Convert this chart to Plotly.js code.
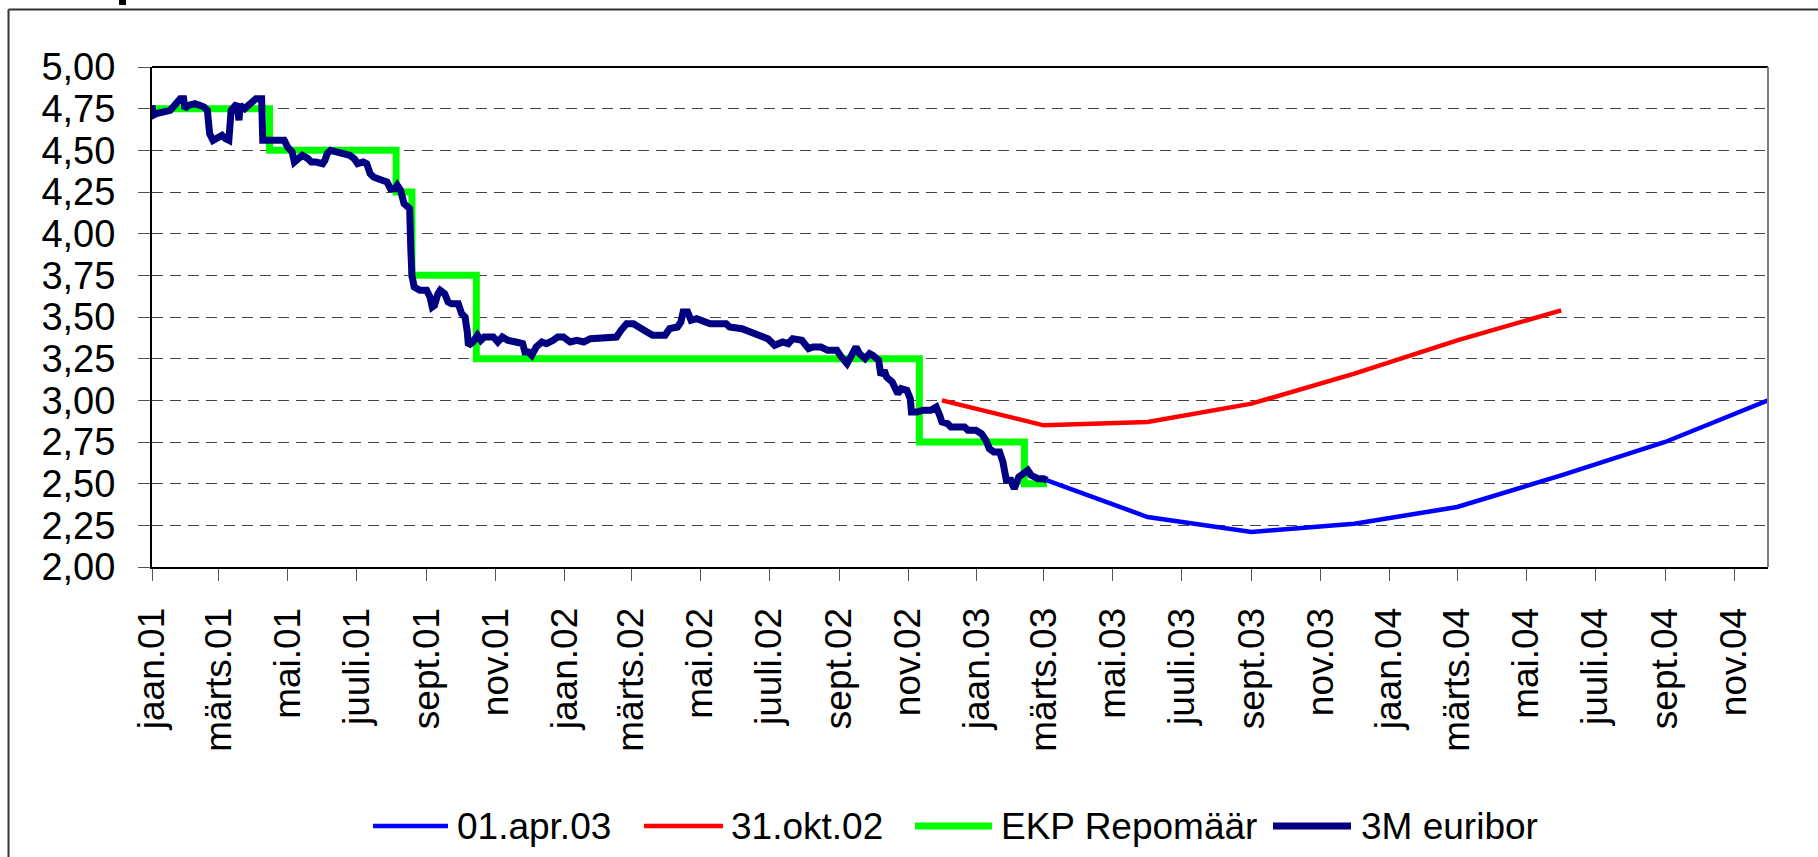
<!DOCTYPE html>
<html>
<head>
<meta charset="utf-8">
<script src="https://cdn.plot.ly/plotly-3.0.1.min.js"></script>
<style>
  html, body { margin: 0; padding: 0; background: #ffffff; }
  #chart { width: 1818px; height: 857px; }
</style>
</head>
<body>
<div id="chart"></div>
<script>
// ---------- data ----------
const tickDates = ['2001-01-01','2001-03-01','2001-05-01','2001-07-01','2001-09-01','2001-11-01',
  '2002-01-01','2002-03-01','2002-05-01','2002-07-01','2002-09-01','2002-11-01',
  '2003-01-01','2003-03-01','2003-05-01','2003-07-01','2003-09-01','2003-11-01',
  '2004-01-01','2004-03-01','2004-05-01','2004-07-01','2004-09-01','2004-11-01'];
const tickLabels = ['jaan.01','märts.01','mai.01','juuli.01','sept.01','nov.01',
  'jaan.02','märts.02','mai.02','juuli.02','sept.02','nov.02',
  'jaan.03','märts.03','mai.03','juuli.03','sept.03','nov.03',
  'jaan.04','märts.04','mai.04','juuli.04','sept.04','nov.04'];

const seriesNames = ['01.apr.03', '31.okt.02', 'EKP Repomäär', '3M euribor'];

const fwdAprDates = ['2003-03-04','2003-06-01','2003-09-01','2003-12-01','2004-03-01','2004-06-01','2004-09-01','2004-12-01'];
const fwdAprValues = [2.52, 2.30, 2.21, 2.26, 2.36, 2.55, 2.75, 3.00];

const fwdOctDates = ['2002-12-01','2003-03-01','2003-06-01','2003-09-01','2003-12-01','2004-03-01','2004-06-01'];
const fwdOctValues = [3.00, 2.85, 2.87, 2.98, 3.16, 3.36, 3.54];

const repoDates = ['2001-01-01','2001-04-15','2001-08-05','2001-08-19','2001-10-15','2002-11-11','2003-02-12','2003-03-04'];
const repoValues = [4.75, 4.50, 4.25, 3.75, 3.25, 2.75, 2.50, 2.50];

const euriborDates = [
 '2001-01-01','2001-01-02','2001-01-05','2001-01-11','2001-01-17','2001-01-21','2001-01-26','2001-01-29','2001-01-30',
 '2001-02-02','2001-02-08','2001-02-12','2001-02-16','2001-02-19','2001-02-21','2001-02-24','2001-02-28',
 '2001-03-04','2001-03-07','2001-03-10','2001-03-12','2001-03-15','2001-03-17','2001-03-19','2001-03-20','2001-03-24','2001-03-27','2001-03-31',
 '2001-04-03','2001-04-08','2001-04-09','2001-04-12','2001-04-18','2001-04-24','2001-04-28',
 '2001-05-01','2001-05-05','2001-05-07','2001-05-11','2001-05-14','2001-05-19','2001-05-22','2001-05-26','2001-05-29',
 '2001-06-01','2001-06-03','2001-06-05','2001-06-08','2001-06-13','2001-06-19','2001-06-25','2001-06-29',
 '2001-07-02','2001-07-07','2001-07-10','2001-07-13','2001-07-16','2001-07-20','2001-07-25','2001-07-28','2001-07-31',
 '2001-08-04','2001-08-06','2001-08-09','2001-08-12','2001-08-17','2001-08-18','2001-08-19','2001-08-21','2001-08-26',
 '2001-09-01','2001-09-04','2001-09-06','2001-09-08','2001-09-11','2001-09-13','2001-09-17','2001-09-20','2001-09-23','2001-09-29',
 '2001-10-02','2001-10-05','2001-10-07','2001-10-08','2001-10-12','2001-10-16','2001-10-19','2001-10-22','2001-10-30',
 '2001-11-03','2001-11-07','2001-11-12','2001-11-19','2001-11-25','2001-11-27','2001-11-30',
 '2001-12-03','2001-12-07','2001-12-12','2001-12-16','2001-12-22','2001-12-26','2001-12-31',
 '2002-01-06','2002-01-12','2002-01-18','2002-01-24','2002-02-01','2002-02-07','2002-02-16','2002-02-20','2002-02-25',
 '2002-03-03','2002-03-09','2002-03-15','2002-03-20','2002-03-31','2002-04-04','2002-04-11','2002-04-14','2002-04-16','2002-04-20','2002-04-23','2002-04-28',
 '2002-05-04','2002-05-10','2002-05-24','2002-05-27','2002-06-07','2002-06-14','2002-06-23','2002-06-30',
 '2002-07-06','2002-07-13','2002-07-18','2002-07-22','2002-07-30','2002-08-05','2002-08-09','2002-08-16','2002-08-22','2002-08-30',
 '2002-09-03','2002-09-08','2002-09-12','2002-09-16','2002-09-19','2002-09-24','2002-09-28',
 '2002-10-01','2002-10-06','2002-10-08','2002-10-11','2002-10-13','2002-10-18','2002-10-21','2002-10-23','2002-10-26','2002-10-31',
 '2002-11-03','2002-11-04','2002-11-09','2002-11-14','2002-11-21','2002-11-26','2002-11-29',
 '2002-12-01','2002-12-06','2002-12-09','2002-12-21','2002-12-24','2002-12-31',
 '2003-01-05','2003-01-09','2003-01-12','2003-01-16','2003-01-21','2003-01-24','2003-01-27','2003-01-31',
 '2003-02-03','2003-02-07','2003-02-12','2003-02-15','2003-02-18','2003-02-24','2003-03-01','2003-03-04'];
const euriborValues = [
 4.77,4.71,4.72,4.73,4.74,4.77,4.81,4.81,4.75,
 4.77,4.78,4.77,4.76,4.74,4.60,4.56,4.57,
 4.59,4.57,4.56,4.74,4.77,4.78,4.68,4.77,4.75,4.77,4.80,
 4.81,4.81,4.56,4.56,4.56,4.57,4.56,
 4.52,4.49,4.43,4.45,4.47,4.45,4.43,4.43,4.42,
 4.42,4.44,4.48,4.50,4.49,4.48,4.47,4.45,
 4.42,4.43,4.42,4.36,4.34,4.33,4.31,4.31,4.27,
 4.27,4.29,4.26,4.18,4.15,3.91,3.75,3.68,3.66,
 3.66,3.62,3.56,3.57,3.64,3.66,3.64,3.59,3.58,3.58,
 3.52,3.50,3.41,3.33,3.35,3.39,3.36,3.38,3.38,
 3.35,3.38,3.36,3.35,3.34,3.29,3.29,
 3.27,3.32,3.35,3.34,3.36,3.38,3.38,
 3.35,3.36,3.35,3.37,3.37,3.38,3.38,3.42,3.46,
 3.46,3.43,3.41,3.39,3.39,3.43,3.44,3.47,3.53,3.53,3.48,3.49,
 3.48,3.46,3.46,3.44,3.43,3.41,3.39,3.37,
 3.33,3.35,3.34,3.37,3.36,3.31,3.32,3.32,3.30,3.30,
 3.26,3.22,3.27,3.32,3.28,3.25,3.28,
 3.27,3.24,3.15,3.18,3.14,3.11,3.07,3.04,3.07,3.06,
 3.01,2.93,2.93,2.94,2.94,2.96,2.91,
 2.87,2.86,2.84,2.84,2.82,2.82,
 2.80,2.76,2.71,2.69,2.69,2.63,2.52,2.52,
 2.47,2.54,2.57,2.58,2.55,2.53,2.53,2.52];

const seriesColors = ['#0000FF', '#FF0000', '#00FF00', '#000080'];

// ---------- layout geometry ----------
const W = 1818, H = 857;
const M = {l: 152, r: 50, t: 67, b: 290};
const PW = W - M.l - M.r, PH = H - M.t - M.b;
const px2x = p => (p - M.l) / PW;
const px2y = p => (H - M.b - p) / PH;

const FONT = 'Liberation Sans, Arial, sans-serif';

const traces = [
  {x: repoDates, y: repoValues, name: seriesNames[2], type: 'scatter', mode: 'lines',
   line: {color: seriesColors[2], width: 7, shape: 'hv'}, showlegend: false},
  {x: euriborDates, y: euriborValues, name: seriesNames[3], type: 'scatter', mode: 'lines',
   line: {color: seriesColors[3], width: 7}, showlegend: false},
  {x: fwdAprDates, y: fwdAprValues, name: seriesNames[0], type: 'scatter', mode: 'lines',
   line: {color: seriesColors[0], width: 4.5}, showlegend: false},
  {x: fwdOctDates, y: fwdOctValues, name: seriesNames[1], type: 'scatter', mode: 'lines',
   line: {color: seriesColors[1], width: 4.5}, showlegend: false}
];

// manual legend (long line samples like the original)
const legendItems = [
  {lineFrom: 373, lineTo: 448, textAt: 455, width: 4.5},
  {lineFrom: 644, lineTo: 723, textAt: 729, width: 4.5},
  {lineFrom: 915, lineTo: 992, textAt: 999, width: 7},
  {lineFrom: 1273, lineTo: 1351, textAt: 1359, width: 7}
];
const legendY = 826;

const shapes = [];
const annotations = [];
legendItems.forEach((it, i) => {
  shapes.push({type: 'line', xref: 'paper', yref: 'paper',
    x0: px2x(it.lineFrom), x1: px2x(it.lineTo), y0: px2y(legendY), y1: px2y(legendY),
    line: {color: seriesColors[i], width: it.width}});
  annotations.push({xref: 'paper', yref: 'paper', x: px2x(it.textAt), y: px2y(legendY),
    xanchor: 'left', yanchor: 'middle', showarrow: false, text: seriesNames[i],
    font: {family: FONT, size: 37, color: '#000'}});
});

// outer chart frame
shapes.push({type: 'line', xref: 'paper', yref: 'paper', x0: px2x(8.5), x1: px2x(8.5), y0: px2y(9.5), y1: px2y(870),
  line: {color: '#333', width: 2}});
shapes.push({type: 'line', xref: 'paper', yref: 'paper', x0: px2x(8.5), x1: px2x(1830), y0: px2y(9.5), y1: px2y(9.5),
  line: {color: '#333', width: 2}});
// fragment of the cut-off title above the frame
shapes.push({type: 'rect', xref: 'paper', yref: 'paper', x0: px2x(119), x1: px2x(126), y0: px2y(5), y1: px2y(-5),
  fillcolor: '#000', line: {width: 0}});
// plot area border: top black, right grey
shapes.push({type: 'line', xref: 'paper', yref: 'paper', x0: 0, x1: 1, y0: 1, y1: 1,
  line: {color: '#000', width: 2}});
shapes.push({type: 'line', xref: 'paper', yref: 'paper', x0: 1, x1: 1, y0: 0, y1: 1,
  line: {color: '#808080', width: 2}});

const layout = {
  width: W, height: H,
  margin: {l: M.l, r: M.r, t: M.t, b: M.b, pad: 0},
  paper_bgcolor: '#ffffff', plot_bgcolor: '#ffffff',
  separators: ', ',
  showlegend: false,
  font: {family: FONT, color: '#000'},
  xaxis: {
    type: 'date', range: ['2001-01-01', '2004-12-01'],
    tickmode: 'array', tickvals: tickDates, ticktext: tickLabels,
    tickangle: -90, tickfont: {family: FONT, size: 37, color: '#000'},
    ticks: 'outside', ticklen: 12, tickwidth: 1, tickcolor: '#555',
    ticklabelstandoff: 12,
    showline: true, linecolor: '#000', linewidth: 2,
    showgrid: false, zeroline: false, fixedrange: true
  },
  yaxis: {
    range: [2, 5], dtick: 0.25, tick0: 2, tickformat: '.2f',
    tickfont: {family: FONT, size: 38, color: '#000'},
    ticks: 'outside', ticklen: 12, tickwidth: 1, tickcolor: '#555',
    ticklabelstandoff: 15,
    showline: true, linecolor: '#000', linewidth: 2,
    showgrid: true, gridcolor: '#444', gridwidth: 1, griddash: '11px,7px',
    zeroline: false, fixedrange: true
  },
  shapes: shapes,
  annotations: annotations
};

Plotly.newPlot('chart', traces, layout, {staticPlot: true, displayModeBar: false});
</script>
</body>
</html>
